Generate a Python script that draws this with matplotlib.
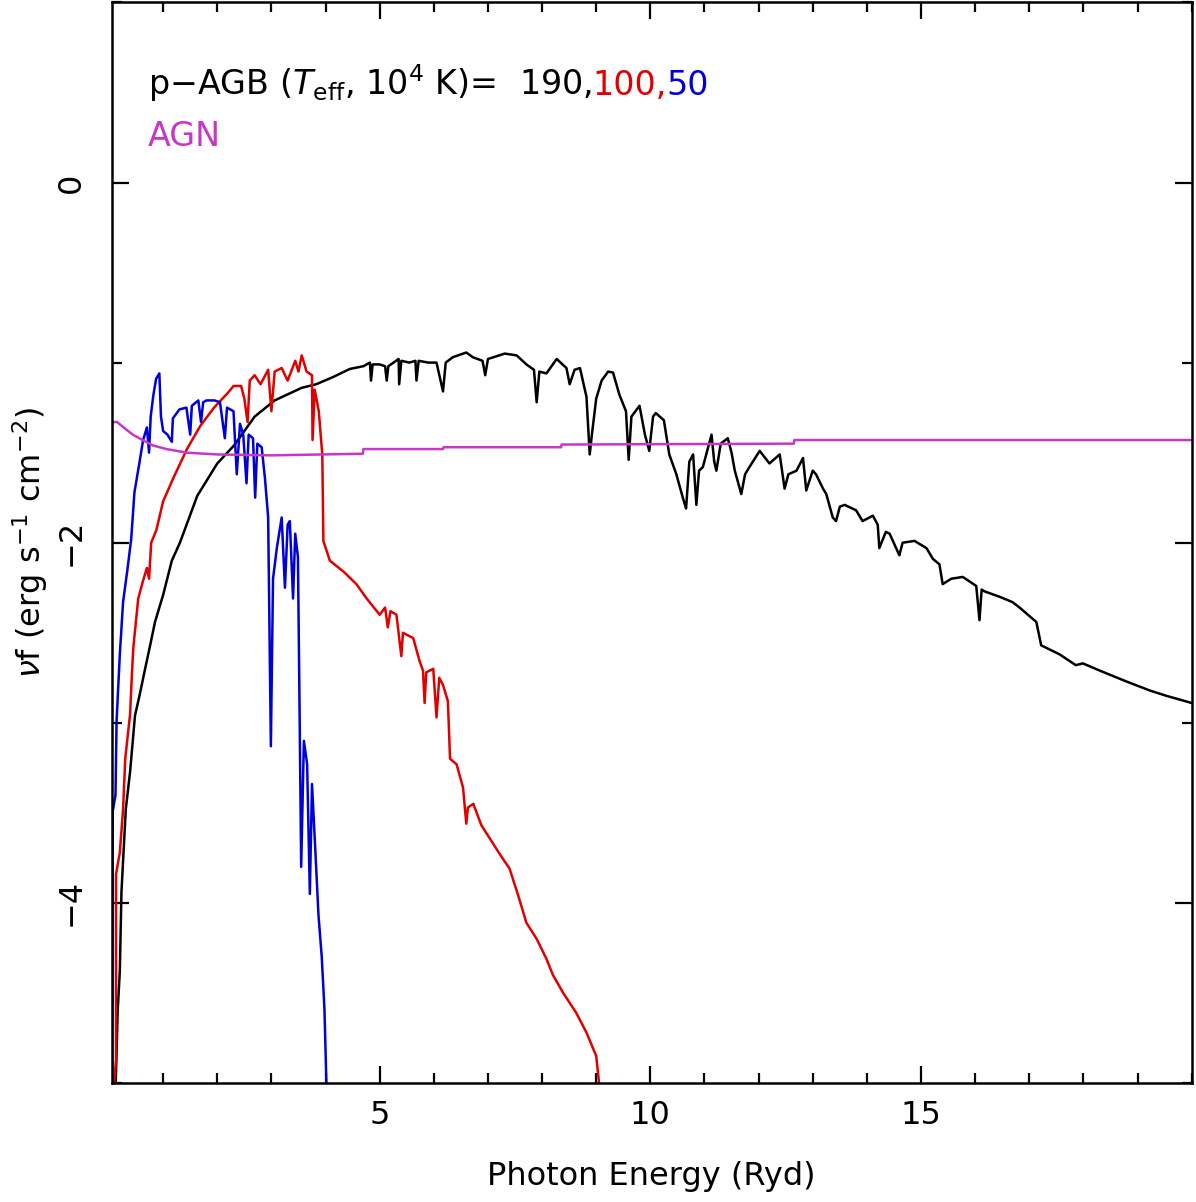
import matplotlib
matplotlib.use("Agg")
import matplotlib.pyplot as plt
from matplotlib.ticker import MultipleLocator, FixedLocator

plt.rcParams["font.family"] = ["DejaVu Sans"]

# p-AGB 190 kK (black)
black_x = [0.12, 0.16, 0.20, 0.23, 0.31, 0.39, 0.48, 0.57, 0.66, 0.76, 0.85, 1.00,
           1.16, 1.31, 1.63, 2.00, 2.31, 2.69, 3.06, 3.56, 3.83, 4.14, 4.45, 4.70,
           4.82, 4.84, 4.87, 5.00, 5.10, 5.13, 5.16, 5.35, 5.36, 5.40, 5.55, 5.66,
           5.68, 5.72, 5.90, 6.05, 6.17, 6.22, 6.35, 6.60, 6.72, 6.90, 6.95, 7.00,
           7.31, 7.53, 7.71, 7.85, 7.90, 7.95, 8.08, 8.27, 8.45, 8.51, 8.60, 8.70,
           8.82, 8.88, 8.92, 9.00, 9.10, 9.22, 9.31, 9.43, 9.55, 9.60, 9.65, 9.80,
           9.90, 9.98, 10.05, 10.10, 10.25, 10.35, 10.48, 10.60, 10.66, 10.72, 10.79,
           10.85, 10.90, 10.97, 11.13, 11.18, 11.22, 11.30, 11.43, 11.50, 11.56,
           11.68, 11.75, 11.83, 12.02, 12.20, 12.39, 12.48, 12.55, 12.70, 12.82,
           12.88, 13.00, 13.06, 13.19, 13.25, 13.37, 13.43, 13.50, 13.59, 13.80,
           13.92, 14.11, 14.20, 14.23, 14.35, 14.42, 14.60, 14.66, 14.88, 15.10,
           15.22, 15.34, 15.40, 15.56, 15.77, 16.02, 16.08, 16.12, 16.17, 16.45,
           16.69, 16.82, 17.13, 17.22, 17.56, 17.86, 17.99, 18.30, 18.79, 19.22,
           19.53, 20.00]
black_y = [-5.05, -4.60, -4.38, -3.94, -3.48, -3.27, -2.96, -2.84, -2.71, -2.57, -2.44, -2.29,
           -2.10, -2.00, -1.74, -1.56, -1.46, -1.30, -1.21, -1.14, -1.12, -1.08, -1.035, -1.02,
           -1.00, -1.10, -1.01, -1.01, -1.02, -1.10, -1.02, -0.98, -1.12, -0.99, -1.00, -0.99,
           -1.10, -0.99, -1.00, -1.00, -1.16, -1.00, -0.97, -0.944, -0.97, -0.99, -1.07, -0.98,
           -0.95, -0.96, -1.01, -1.04, -1.22, -1.05, -1.06, -0.98, -1.03, -1.12, -1.04, -1.03,
           -1.19, -1.51, -1.40, -1.20, -1.10, -1.05, -1.055, -1.18, -1.27, -1.54, -1.30, -1.24,
           -1.40, -1.49, -1.30, -1.28, -1.32, -1.51, -1.62, -1.75, -1.81, -1.55, -1.51,
           -1.79, -1.60, -1.58, -1.40, -1.55, -1.60, -1.45, -1.42, -1.50, -1.60,
           -1.73, -1.62, -1.58, -1.49, -1.56, -1.51, -1.70, -1.62, -1.60, -1.53,
           -1.71, -1.60, -1.62, -1.70, -1.73, -1.86, -1.88, -1.80, -1.79, -1.82,
           -1.88, -1.85, -1.90, -2.03, -1.94, -1.95, -2.07, -2.00, -1.99, -2.03,
           -2.09, -2.12, -2.23, -2.20, -2.19, -2.24, -2.43, -2.26, -2.27, -2.30,
           -2.33, -2.36, -2.44, -2.57, -2.62, -2.68, -2.67, -2.71, -2.77, -2.82,
           -2.85, -2.89]

# p-AGB 100 kK (red)
red_x = [0.08, 0.13, 0.13, 0.20, 0.26, 0.30, 0.39, 0.42, 0.45, 0.54, 0.63, 0.70, 0.74,
         0.78, 0.875, 1.00, 1.19, 1.44, 1.69, 1.94, 2.19, 2.30, 2.44, 2.50, 2.56, 2.60,
         2.69, 2.80, 2.94, 3.00, 3.06, 3.19, 3.30, 3.44, 3.50, 3.56, 3.65, 3.75, 3.76,
         3.80, 3.875, 3.94, 3.96, 4.08, 4.33, 4.57, 4.76, 5.00, 5.10, 5.15, 5.20, 5.31,
         5.40, 5.43, 5.62, 5.74, 5.80, 5.83, 5.86, 5.99, 6.05, 6.10, 6.17, 6.26, 6.30,
         6.42, 6.54, 6.60, 6.63, 6.73, 6.88, 7.03, 7.22, 7.40, 7.56, 7.71, 7.90, 8.08,
         8.20, 8.39, 8.63, 8.82, 9.00, 9.07]
red_y = [-5.05, -4.87, -3.84, -3.72, -3.48, -3.20, -2.95, -2.75, -2.58, -2.31, -2.21, -2.14, -2.20,
         -2.00, -1.93, -1.77, -1.64, -1.48, -1.35, -1.25, -1.17, -1.13, -1.13, -1.20, -1.33, -1.10,
         -1.07, -1.12, -1.04, -1.27, -1.05, -1.03, -1.10, -0.99, -1.05, -0.96, -1.05, -1.07, -1.43,
         -1.15, -1.27, -1.51, -1.99, -2.10, -2.16, -2.23, -2.31, -2.40, -2.36, -2.47, -2.38, -2.40,
         -2.63, -2.50, -2.53, -2.66, -2.71, -2.89, -2.72, -2.70, -2.97, -2.75, -2.79, -2.88, -3.20,
         -3.23, -3.36, -3.56, -3.47, -3.45, -3.57, -3.64, -3.73, -3.81, -3.96, -4.11, -4.20, -4.31,
         -4.40, -4.50, -4.61, -4.72, -4.85, -5.05]

# p-AGB 50 kK (blue)
blue_x = [0.06, 0.065, 0.07, 0.12, 0.14, 0.20, 0.26, 0.34, 0.41, 0.47, 0.56, 0.63, 0.70,
          0.74, 0.77, 0.82, 0.87, 0.93, 0.96, 1.00, 1.08, 1.16, 1.18, 1.30, 1.43, 1.50,
          1.53, 1.65, 1.70, 1.74, 1.80, 1.95, 2.05, 2.14, 2.18, 2.30, 2.36, 2.42, 2.48,
          2.54, 2.58, 2.66, 2.70, 2.74, 2.82, 2.88, 2.94, 2.99, 3.03, 3.10, 3.19, 3.25,
          3.30, 3.34, 3.40, 3.44, 3.49, 3.52, 3.55, 3.60, 3.66, 3.71, 3.75, 3.81, 3.87,
          3.93, 3.98, 4.02]
blue_y = [-5.05, -4.30, -3.49, -3.40, -2.99, -2.62, -2.33, -2.15, -1.98, -1.72, -1.56, -1.43, -1.36,
          -1.50, -1.30, -1.18, -1.09, -1.06, -1.30, -1.38, -1.40, -1.44, -1.31, -1.26, -1.25, -1.40,
          -1.24, -1.21, -1.33, -1.22, -1.21, -1.21, -1.22, -1.42, -1.25, -1.27, -1.62, -1.34, -1.40,
          -1.67, -1.40, -1.42, -1.75, -1.45, -1.47, -1.64, -1.86, -3.13, -2.20, -2.03, -1.86, -2.25,
          -1.90, -1.88, -2.31, -1.95, -2.08, -2.92, -3.80, -3.10, -3.23, -3.95, -3.34, -3.70, -4.07,
          -4.30, -4.59, -5.05]

# AGN (magenta)
agn_x = [0.05, 0.055, 0.15, 0.27, 0.44, 0.62, 0.81, 1.06, 1.44, 2.00, 3.00, 4.69, 4.70,
         6.17, 6.18, 8.35, 8.36, 12.65, 12.66, 20.0]
agn_y = [-1.75, -1.33, -1.33, -1.36, -1.40, -1.43, -1.46, -1.48, -1.50, -1.51, -1.515, -1.506,
         -1.48, -1.48, -1.47, -1.47, -1.455, -1.45, -1.43, -1.43]

temps = ["100,", "50"]
temp_colors = ["#e00000", "#0000d8"]

fig = plt.figure(figsize=(11.96, 12.02), dpi=100)
ax = fig.add_axes([0.0934, 0.099, 0.903, 0.899])

ax.plot(black_x, black_y, color="black", lw=1.8)
ax.plot(red_x, red_y, color="#e00000", lw=1.8)
ax.plot(blue_x, blue_y, color="#0000d8", lw=1.8)
ax.plot(agn_x, agn_y, color="#c838c8", lw=1.8)

ax.set_xlim(0.05, 20)
ax.set_ylim(-5, 1)

ax.xaxis.set_major_locator(FixedLocator([5, 10, 15]))
ax.xaxis.set_minor_locator(MultipleLocator(1))
ax.yaxis.set_major_locator(FixedLocator([-4, -2, 0]))
ax.yaxis.set_minor_locator(MultipleLocator(1))
ax.tick_params(which="both", direction="in", top=True, right=True, width=1.6,
               labelsize=23)
ax.tick_params(which="major", length=12)
ax.tick_params(which="minor", length=7)
ax.tick_params(axis="x", pad=12)
ax.tick_params(axis="y", pad=18)
for lab in ax.get_yticklabels():
    lab.set_rotation(90)
    lab.set_va("center")
for sp in ax.spines.values():
    sp.set_linewidth(1.8)

ax.set_xlabel("Photon Energy (Ryd)", fontsize=23, labelpad=22)
ax.set_ylabel(r"$\nu$f (erg s$^{-1}$ cm$^{-2}$)", fontsize=23, labelpad=4)

t = ax.text(0.0336, 0.914, r"p$-$AGB ($T_{\rm eff}$, 10$^4$ K)=  190,",
            transform=ax.transAxes, fontsize=24, va="baseline", color="black")
fig.canvas.draw()
renderer = fig.canvas.get_renderer()
for label, col in zip(temps, temp_colors):
    bb = t.get_window_extent(renderer)
    x_next = ax.transAxes.inverted().transform((bb.x1, bb.y0))[0]
    t = ax.text(x_next, 0.914, label, transform=ax.transAxes, fontsize=24,
                va="baseline", color=col)
ax.text(0.0336, 0.867, "AGN", transform=ax.transAxes, fontsize=24,
        va="baseline", color="#c838c8")

fig.savefig("out.png", dpi=100, facecolor="white")
